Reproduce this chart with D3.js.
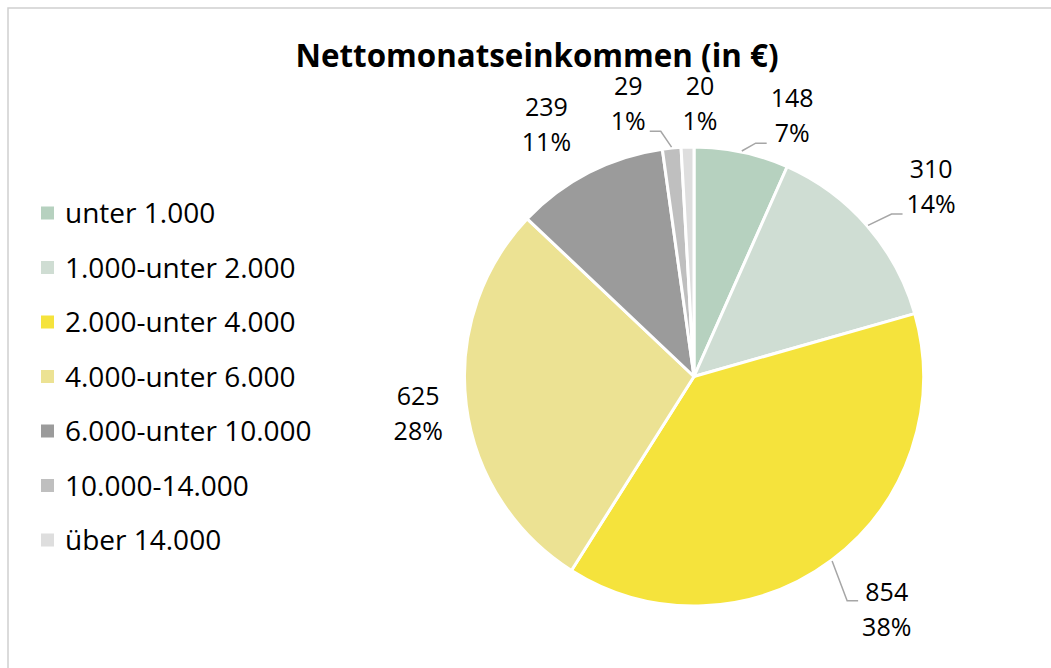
<!DOCTYPE html>
<html>
<head>
<meta charset="utf-8">
<script src="https://cdn.jsdelivr.net/npm/d3@7"></script>
<style>
  body { margin: 0; background: #fff; }
  svg text { font-family: "Open Sans", sans-serif; fill: #000; }
</style>
</head>
<body>
<svg width="1051" height="668"></svg>
<script>
// data
const categories = ["unter 1.000", "1.000-unter 2.000", "2.000-unter 4.000", "4.000-unter 6.000",
  "6.000-unter 10.000", "10.000-14.000", "über 14.000"];
const counts = [148, 310, 854, 625, 239, 29, 20];
const percents = ["7%", "14%", "38%", "28%", "11%", "1%", "1%"];
const colors = ["#b6d1bf", "#cfddd3", "#f5e33c", "#ece293", "#9b9b9b", "#bfbfbf", "#dedede"];

// label nudges away from the default label ring (px), and which ones get a leader line
const labelNudge = [[39, 18], [22, -3], [22, 5], [7, 1], [-17, 1], [-38, 11], [14, 12]];
const leaderSide = ["left", "left", "left", null, null, "right", null];

const svg = d3.select("svg"),
  width = +svg.attr("width"),
  height = +svg.attr("height");

// chart frame
svg.append("rect")
  .attr("x", 8).attr("y", 8)
  .attr("width", width + 20).attr("height", height + 20)
  .attr("fill", "#fff")
  .attr("stroke", "#cfcfcf")
  .attr("stroke-width", 1.5);

svg.append("text")
  .attr("x", 537).attr("y", 67)
  .attr("text-anchor", "middle")
  .attr("font-size", 33)
  .attr("font-weight", "bold")
  .attr("textLength", 483)
  .attr("lengthAdjust", "spacingAndGlyphs")
  .text("Nettomonatseinkommen (in €)");

// pie
const cx = 694, cy = 376.5, r = 229.5, labelR = 285;

const pie = d3.pie().sort(null).value(d => d);
const arcs = pie(counts);
const arc = d3.arc().innerRadius(0).outerRadius(r);

const g = svg.append("g").attr("transform", "translate(" + cx + "," + cy + ")");

g.selectAll("path.slice")
  .data(arcs)
  .enter().append("path")
  .attr("class", "slice")
  .attr("d", arc)
  .attr("fill", (d, i) => colors[i])
  .attr("stroke", "#fff")
  .attr("stroke-width", 3)
  .attr("stroke-linejoin", "round");

function polar(a, rad) {
  return [Math.sin(a) * rad, -Math.cos(a) * rad];
}

const lineGap = 35;
const fs = 25;

arcs.forEach(function(d, i) {
  const mid = (d.startAngle + d.endAngle) / 2;
  const p = polar(mid, labelR);
  const lx = p[0] + labelNudge[i][0],
    ly = p[1] + labelNudge[i][1];

  const t = g.append("text")
    .attr("text-anchor", "middle")
    .attr("font-size", fs);
  t.append("tspan").attr("x", lx).attr("y", ly - lineGap / 2 + 9).text(counts[i]);
  t.append("tspan").attr("x", lx).attr("y", ly + lineGap / 2 + 9).text(percents[i]);

  if (leaderSide[i]) {
    // measure the wider line to find the label edge
    const w = Math.max.apply(null, t.selectAll("tspan").nodes().map(n => n.getComputedTextLength()));
    const start = polar(mid, r + 1);
    let endX, endY;
    if (leaderSide[i] === "left") {
      endX = lx - w / 2 - 4;
      endY = i === 2 ? ly - 9 : ly + lineGap / 2 + 10;
    } else {
      endX = lx + w / 2 + 4;
      endY = ly + lineGap / 2 + 10;
    }
    const dir = leaderSide[i] === "left" ? -1 : 1;
    const elbowX = endX + dir * 11;
    g.append("polyline")
      .attr("points", [start, [elbowX, endY], [endX, endY]].map(q => q.join(",")).join(" "))
      .attr("fill", "none")
      .attr("stroke", "#a6a6a6")
      .attr("stroke-width", 1.5);
  }
});

// legend
const legendY = d3.scalePoint()
  .domain(categories)
  .range([213, 540]);

const legend = svg.append("g").attr("class", "legend");
const entry = legend.selectAll("g")
  .data(categories)
  .enter().append("g")
  .attr("transform", d => "translate(0," + legendY(d) + ")");

entry.append("rect")
  .attr("x", 41).attr("y", -6.5)
  .attr("width", 13).attr("height", 13)
  .attr("fill", (d, i) => colors[i]);

entry.append("text")
  .attr("x", 65).attr("y", 10)
  .attr("font-size", 28)
  .text(d => d);
</script>
</body>
</html>
